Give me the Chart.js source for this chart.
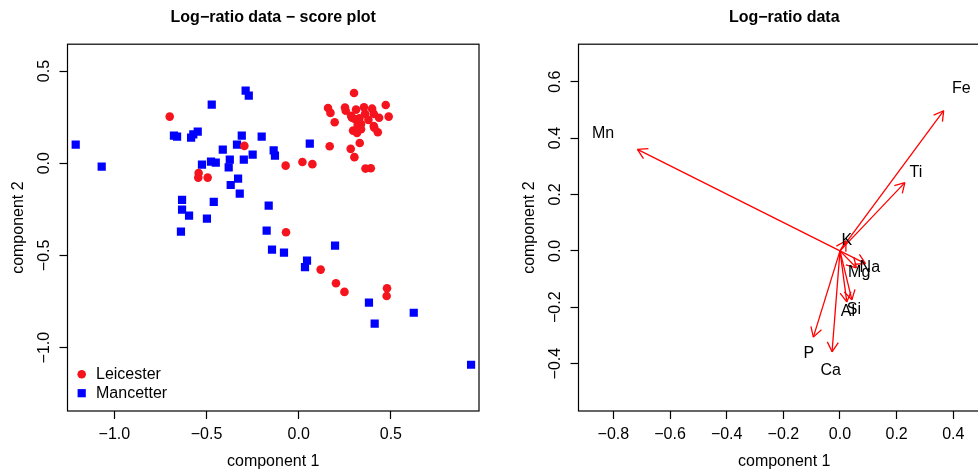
<!DOCTYPE html>
<html><head><meta charset="utf-8">
<script src="https://cdn.jsdelivr.net/npm/chart.js@4/dist/chart.umd.min.js"></script>
<style>
html,body{margin:0;padding:0;background:#fff;overflow:hidden;width:978px;height:471px;}
.wrap{position:absolute;top:0;width:489px;height:471px;}
#w1{left:0}
#w2{left:511px}
</style></head><body>
<div class="wrap" id="w1"><canvas id="c1" width="489" height="471"></canvas></div>
<div class="wrap" id="w2"><canvas id="c2" width="489" height="471"></canvas></div>
<script>
// ---- Score plot data ----
const leicesterX = [-0.700,-0.295,-0.543,-0.545,-0.494,-0.071,0.020,0.074,0.168,0.282,0.331,0.302,0.362,0.391,-0.069,0.300,0.159,0.172,0.195,0.251,0.255,0.311,0.354,0.398,0.472,0.488,0.436,0.407,0.284,0.304,0.329,0.360,0.378,0.338,0.407,0.410,0.429,0.295,0.316,0.338,0.320,0.289,0.119,0.202,0.248,0.479,0.477];
const leicesterY = [0.253,0.094,-0.053,-0.078,-0.078,-0.013,0.007,-0.005,0.092,0.078,0.110,0.033,-0.029,-0.027,-0.374,0.381,0.300,0.273,0.222,0.302,0.285,0.291,0.304,0.296,0.316,0.253,0.247,0.268,0.257,0.240,0.244,0.268,0.235,0.213,0.202,0.193,0.168,0.177,0.164,0.184,0.208,0.247,-0.577,-0.651,-0.698,-0.678,-0.720];
const mancetterX = [-1.210,-1.069,-0.288,-0.271,-0.472,-0.677,-0.660,-0.584,-0.572,-0.548,-0.309,-0.201,0.060,-0.335,-0.412,-0.136,-0.129,-0.250,-0.298,-0.374,-0.380,-0.476,-0.450,-0.525,-0.329,-0.369,-0.320,-0.633,-0.461,-0.163,-0.633,-0.595,-0.498,-0.639,-0.174,-0.145,-0.080,0.045,0.034,0.197,0.381,0.412,0.624,0.935];
const mancetterY = [0.101,-0.018,0.394,0.367,0.318,0.150,0.144,0.139,0.157,0.172,0.150,0.144,0.106,0.101,0.074,0.070,0.041,0.047,0.020,0.020,-0.022,0.009,0.003,-0.008,-0.083,-0.118,-0.165,-0.199,-0.210,-0.230,-0.252,-0.284,-0.300,-0.371,-0.366,-0.469,-0.485,-0.528,-0.564,-0.447,-0.756,-0.870,-0.811,-1.093];
const scoreXTicks = [-1.0,-0.5,0.0,0.5];
const scoreXLabels = ['\u22121.0','\u22120.5','0.0','0.5'];
const scoreYTicks = [-1.0,-0.5,0.0,0.5];
const scoreYLabels = ['\u22121.0','\u22120.5','0.0','0.5'];

// ---- Loadings data ----
const elements = ['Fe','Mn','Ti','K','Na','Mg','Si','Al','P','Ca'];
const loadX = [0.366,-0.715,0.229,0.021,0.090,0.058,0.042,0.024,-0.094,-0.028];
const loadY = [0.497,0.360,0.242,0.036,-0.045,-0.060,-0.174,-0.181,-0.306,-0.358];
const loadXTicks = [-0.8,-0.6,-0.4,-0.2,0.0,0.2,0.4];
const loadXLabels = ['\u22120.8','\u22120.6','\u22120.4','\u22120.2','0.0','0.2','0.4'];
const loadYTicks = [-0.4,-0.2,0.0,0.2,0.4,0.6];
const loadYLabels = ['\u22120.4','\u22120.2','0.0','0.2','0.4','0.6'];

const FONT = "'Liberation Sans', Arial, Helvetica, sans-serif";
const LABEL_SCALE = 1.17;

function axis(min, max, ticks, labels, title, isY) {
  return {
    type: 'linear', min: min, max: max, position: isY ? 'left' : 'bottom',
    afterBuildTicks: s => { s.ticks = ticks.map(v => ({value: v})); },
    afterFit: s => { if (isY) s.width = 67.5; else s.height = 60; },
    grid: {display: true, drawOnChartArea: false, drawTicks: true, tickLength: 8, tickWidth: 1.2, tickColor: '#000', color: '#000'},
    border: {display: false},
    ticks: {
      font: {family: FONT, size: 16}, color: '#000',
      padding: isY ? -1 : 6,
      minRotation: isY ? 90 : 0, maxRotation: isY ? 90 : 0,
      crossAlign: isY ? 'center' : 'near',
      autoSkip: false,
      callback: (v, i) => labels[i]
    },
    title: {display: true, text: title, font: {family: FONT, size: 16}, color: '#000',
      padding: isY ? {top: 9, bottom: 0} : {top: 0, bottom: 0}}
  };
}

const boxPlugin = {
  id: 'box',
  afterDatasetsDraw(chart) {
    const {ctx, chartArea: a} = chart;
    ctx.save();
    ctx.strokeStyle = '#000'; ctx.lineWidth = 1.2;
    ctx.strokeRect(a.left, a.top, a.right - a.left, a.bottom - a.top);
    ctx.restore();
  }
};

const scoreLegend = {
  id: 'scoreLegend',
  afterDraw(chart) {
    const {ctx, chartArea: a} = chart;
    ctx.save();
    chart.data.datasets.forEach((ds, i) => {
      const x = a.left + 14.2, y = a.bottom - 36.8 + i * 19;
      ctx.fillStyle = ds.backgroundColor;
      Chart.helpers.drawPoint(ctx, {pointStyle: ds.pointStyle, radius: ds.pointRadius, borderWidth: 0, rotation: 0}, x, y);
      ctx.fillStyle = '#000';
      ctx.font = '16px ' + FONT;
      ctx.textAlign = 'left'; ctx.textBaseline = 'middle';
      ctx.fillText(ds.label, a.left + 28.5, y);
    });
    ctx.restore();
  }
};

const arrowPlugin = {
  id: 'arrows',
  afterDatasetsDraw(chart) {
    const ctx = chart.ctx;
    const xs = chart.scales.x, ys = chart.scales.y;
    const L = 11, A = Math.PI / 6;
    ctx.save();
    chart.data.datasets.forEach((ds, i) => {
      const pts = chart.getDatasetMeta(i).data;
      const p0 = pts[0], p1 = pts[1];
      const ang = Math.atan2(p1.y - p0.y, p1.x - p0.x);
      ctx.strokeStyle = ds.borderColor; ctx.lineWidth = ds.borderWidth;
      ctx.beginPath();
      [-1, 1].forEach(s => {
        ctx.moveTo(p1.x - L * Math.cos(ang + s * A), p1.y - L * Math.sin(ang + s * A));
        ctx.lineTo(p1.x, p1.y);
      });
      ctx.stroke();
    });
    ctx.fillStyle = '#000';
    ctx.font = '16px ' + FONT;
    ctx.textAlign = 'center'; ctx.textBaseline = 'middle';
    chart.data.datasets.forEach((ds, i) => {
      ctx.fillText(ds.label, xs.getPixelForValue(loadX[i] * LABEL_SCALE), ys.getPixelForValue(loadY[i] * LABEL_SCALE) + 1.5);
    });
    ctx.restore();
  }
};

function titleOpt(text) {
  return {display: true, text: text, fullSize: false, color: '#000',
    font: {family: FONT, size: 16, weight: 'bold'}, padding: {top: 8, bottom: 17}};
}

new Chart(document.getElementById('c1'), {
  type: 'scatter',
  data: {
    datasets: [
      {label: 'Leicester', data: leicesterX.map((x, i) => ({x: x, y: leicesterY[i]})),
        pointStyle: 'circle', pointRadius: 4.3, borderWidth: 0, backgroundColor: 'rgb(245,20,30)', borderColor: 'rgb(245,20,30)'},
      {label: 'Mancetter', data: mancetterX.map((x, i) => ({x: x, y: mancetterY[i]})),
        pointStyle: 'rect', pointRadius: 5.8, borderWidth: 0, backgroundColor: '#0000ff', borderColor: '#0000ff'}
    ]
  },
  options: {
    responsive: false, animation: false, devicePixelRatio: 1,
    layout: {padding: {left: 0, right: 10, top: 0, bottom: 0}},
    plugins: {legend: {display: false}, tooltip: {enabled: false}, title: titleOpt('Log\u2212ratio data \u2212 score plot')},
    scales: {
      x: axis(-1.2545, 0.978, scoreXTicks, scoreXLabels, 'component 1', false),
      y: axis(-1.344, 0.6457, scoreYTicks, scoreYLabels, 'component 2', true)
    }
  },
  plugins: [boxPlugin, scoreLegend]
});

new Chart(document.getElementById('c2'), {
  type: 'scatter',
  data: {
    datasets: elements.map((el, i) => ({
      label: el, data: [{x: 0, y: 0}, {x: loadX[i], y: loadY[i]}],
      showLine: true, pointRadius: 0, borderColor: '#ff0000', backgroundColor: '#ff0000', borderWidth: 1.3, fill: false, tension: 0
    }))
  },
  options: {
    responsive: false, animation: false, devicePixelRatio: 1,
    layout: {padding: {left: 0, right: 10, top: 0, bottom: 0}},
    plugins: {legend: {display: false}, tooltip: {enabled: false}, title: titleOpt('Log\u2212ratio data')},
    scales: {
      x: axis(-0.923, 0.5295, loadXTicks, loadXLabels, 'component 1', false),
      y: axis(-0.568, 0.733, loadYTicks, loadYLabels, 'component 2', true)
    }
  },
  plugins: [boxPlugin, arrowPlugin]
});
</script>
</body></html>
